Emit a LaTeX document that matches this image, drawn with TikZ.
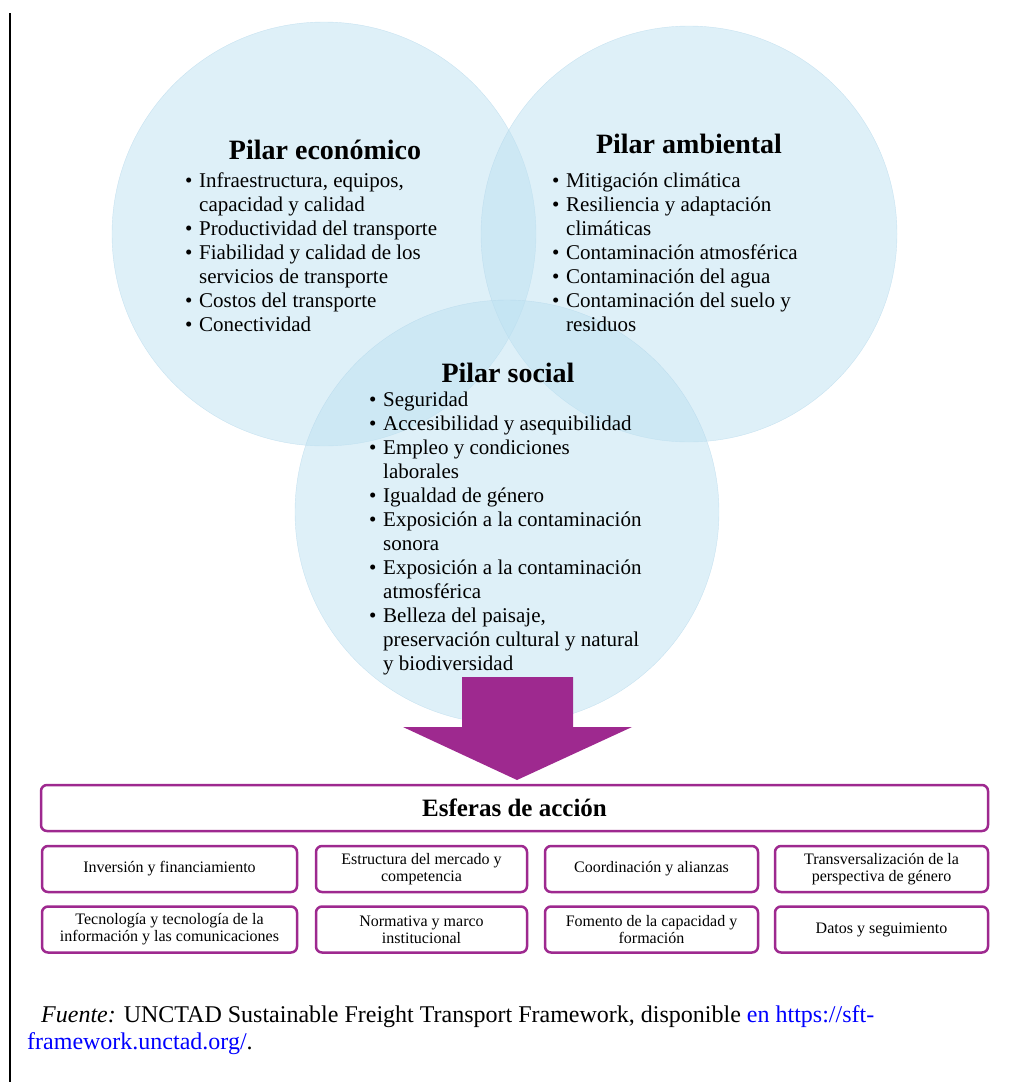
\documentclass[tikz,border=0pt]{standalone}
\usepackage{fontspec}
\setmainfont{Liberation Serif}
\usetikzlibrary{positioning}
\definecolor{pilarblue}{RGB}{189,225,241}
\definecolor{pilaredge}{RGB}{178,214,234}
\definecolor{esferapurple}{RGB}{158,41,143}
\tikzset{
    pilar/.style={circle, draw=pilaredge, fill=pilarblue, fill opacity=0.5, draw opacity=0.6, inner sep=0},
    pilartitle/.style={font=\fontsize{28}{32}\selectfont\bfseries, inner sep=0, anchor=base},
    pilarlist/.style={font=\fontsize{21}{24}\selectfont, align=left, anchor=north west, inner sep=0},
    esfera/.style={draw=esferapurple, line width=2.5, rounded corners=6, fill=white, align=center, inner sep=2, minimum height=46, font=\fontsize{16}{17}\selectfont},
    fuente/.style={font=\fontsize{24}{27}\selectfont, align=left, anchor=north west, inner sep=0}
}
\newcommand{\bul}{\makebox[14pt][l]{\textbullet}}
\newcommand{\sig}{\hspace*{14pt}}

\begin{document}
\begin{tikzpicture}[x=1pt, y=-1pt]
    \useasboundingbox (0,0) rectangle (1014,1082);
    \draw[line width=2] (10,13) -- (10,1082);

    % the three pillars
    \node[pilar, minimum size=424] (eco) at (324,234) {};
    \node[pilar, minimum size=416] (amb) at (689,234) {};
    \node[pilar, minimum size=424] (soc) at (507,512) {};

    \fill[esferapurple] (462,677) -- (573,677) -- (573,727) -- (632,727) -- (517,780)
        -- (403,727) -- (462,727) -- cycle;

    \node[pilartitle] (ecot) at (325,159) {Pilar económico};
    \node[pilarlist] (ecol) at (185,173) {%
        \bul Infraestructura, equipos,\\
        \sig capacidad y calidad\\
        \bul Productividad del transporte\\
        \bul Fiabilidad y calidad de los\\
        \sig servicios de transporte\\
        \bul Costos del transporte\\
        \bul Conectividad};

    \node[pilartitle] (ambt) at (689,153) {Pilar ambiental};
    \node[pilarlist] (ambl) at (552,173) {%
        \bul Mitigación climática\\
        \bul Resiliencia y adaptación\\
        \sig climáticas\\
        \bul Contaminación atmosférica\\
        \bul Contaminación del agua\\
        \bul Contaminación del suelo y\\
        \sig residuos};

    \node[pilartitle] (soct) at (508,382) {Pilar social};
    \node[pilarlist] (socl) at (369,392) {%
        \bul Seguridad\\
        \bul Accesibilidad y asequibilidad\\
        \bul Empleo y condiciones\\
        \sig laborales\\
        \bul Igualdad de género\\
        \bul Exposición a la contaminación\\
        \sig sonora\\
        \bul Exposición a la contaminación\\
        \sig atmosférica\\
        \bul Belleza del paisaje,\\
        \sig preservación cultural y natural\\
        \sig y biodiversidad};

    % esferas de accion
    \node[esfera, minimum width=947, font=\fontsize{25}{28}\selectfont\bfseries] (esf) at (514.5,808) {Esferas de acción};
    \node[esfera, minimum width=255] (inv) at (169.5,869) {Inversión y financiamiento};
    \node[esfera, minimum width=211] (mer) at (421.5,869) {Estructura del mercado y\\competencia};
    \node[esfera, minimum width=213] (coo) at (651.5,869) {Coordinación y alianzas};
    \node[esfera, minimum width=213] (gen) at (881.5,869) {Transversalización de la\\perspectiva de género};
    \node[esfera, minimum width=255] (tec) at (169.5,929.5) {Tecnología y tecnología de la\\información y las comunicaciones};
    \node[esfera, minimum width=211] (nor) at (421.5,929.5) {Normativa y marco\\institucional};
    \node[esfera, minimum width=213] (fom) at (651.5,929.5) {Fomento de la capacidad y\\formación};
    \node[esfera, minimum width=213] (dat) at (881.5,929.5) {Datos y seguimiento};

    \node[fuente] (src) at (27,1005) {%
        \hspace*{14pt}\textit{Fuente:} UNCTAD Sustainable Freight Transport Framework, disponible \textcolor{blue}{en https://sft-}\\
        \textcolor{blue}{framework.unctad.org/}.};
\end{tikzpicture}
\end{document}
